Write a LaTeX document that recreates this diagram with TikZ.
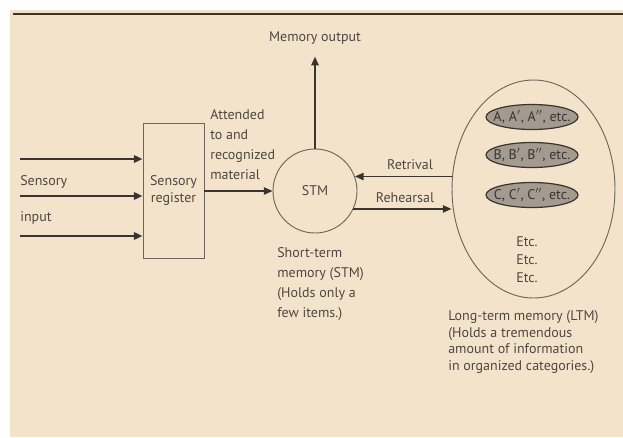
\documentclass[tikz,border=0pt]{standalone}
\usepackage{fontspec}
\setmainfont{PT Sans}
\usepackage{xcolor}
\definecolor{Paper}{HTML}{F3E3CB}
\definecolor{Ink}{HTML}{3A3430}
\definecolor{Rule}{HTML}{6E665E}
\definecolor{Print}{HTML}{4E4741}
\definecolor{Cat}{HTML}{A39A90}
\usetikzlibrary{positioning,calc,arrows.meta,shapes.geometric}

\begin{document}
\begin{tikzpicture}[x=0.75pt,y=-0.75pt,
 arr/.style={draw=Ink,line width=1.1pt,-{Triangle[length=6.5pt,width=5.5pt]}},
 lbl/.style={text=Print,font=\fontsize{10.5}{15}\selectfont,inner sep=0pt},
 store/.style={draw=Rule,line width=0.7pt},
 cat/.style={ellipse,draw=Ink,fill=Cat,line width=0.9pt,minimum width=69pt,
  minimum height=18.75pt,inner sep=0pt},
 cattxt/.style={inner sep=0pt,text=Ink,font=\fontsize{10.5}{11}\selectfont}]
\useasboundingbox (0,0) rectangle (623,437);
\fill[white] (0,0) rectangle (623,437);
\fill[Paper] (10,10) rectangle (623,437);
\draw[Ink,line width=1.5pt] (13,13.5) -- (623,13.5);
% stores
\node[store,minimum width=45.75pt,minimum height=101.25pt,
 align=center,lbl,font=\fontsize{10.5}{13}\selectfont] (reg) at (173.5,190.5) {Sensory\\register};
\node[store,circle,minimum size=63pt,lbl] (stm) at (315,191) {STM};
\node[store,ellipse,minimum width=122.25pt,minimum height=163.5pt] (ltm) at (533.5,189) {};
\node[cat] (catA) at (532,117) {};
\node[cat] (catB) at (532,155) {};
\node[cat] (catC) at (532,195) {};
\node[cattxt] (txtA) at (catA) {A, A$'$, A$''$, etc.};
\node[cattxt] (txtB) at (catB) {B, B$'$, B$''$, etc.};
\node[cattxt] (txtC) at (catC) {C, C$'$, C$''$, etc.};
\node[lbl,align=center,font=\fontsize{10.5}{13.5}\selectfont] (etc) at (527,260) {Etc.\\Etc.\\Etc.};
% input side
\coordinate (in1) at (20,159);
\coordinate (in2) at (20,196);
\coordinate (in3) at (20,236);
\foreach \i in {1,2,3} {\draw[arr,line width=1.7pt] (in\i) -- (in\i -| reg.west);}
\node[lbl,anchor=west] (sens) at (20,182) {Sensory};
\node[lbl,anchor=west] (inp) at (20,218) {input};
\draw[arr] (reg.east |- stm.west) -- (stm.west);
\node[lbl,anchor=west,align=left] (att) at (210,145) {Attended\\to and\\recognized\\material};
% output and LTM links
\node[lbl] (out) at (315,38) {Memory output};
\draw[arr,shorten >=9pt] (stm.north) -- (out.south);
\draw[arr] (stm.20 -| ltm.west) -- (stm.20);
\draw[arr] (stm.-25) -- (stm.-25 -| ltm.west);
\node[lbl] (retr) at (410,165) {Retrival};
\node[lbl] (reh) at (405,198) {Rehearsal};
% captions
\node[lbl,anchor=west,align=left] (stmcap) at (277,284) {Short-term\\memory (STM)\\(Holds only a\\few items.)};
\node[lbl,anchor=west,align=left,font=\fontsize{10.5}{12.5}\selectfont] (ltmcap) at (448,342)
 {Long-term memory (LTM)\\(Holds a tremendous\\amount of information\\in organized categories.)};
\end{tikzpicture}
\end{document}
